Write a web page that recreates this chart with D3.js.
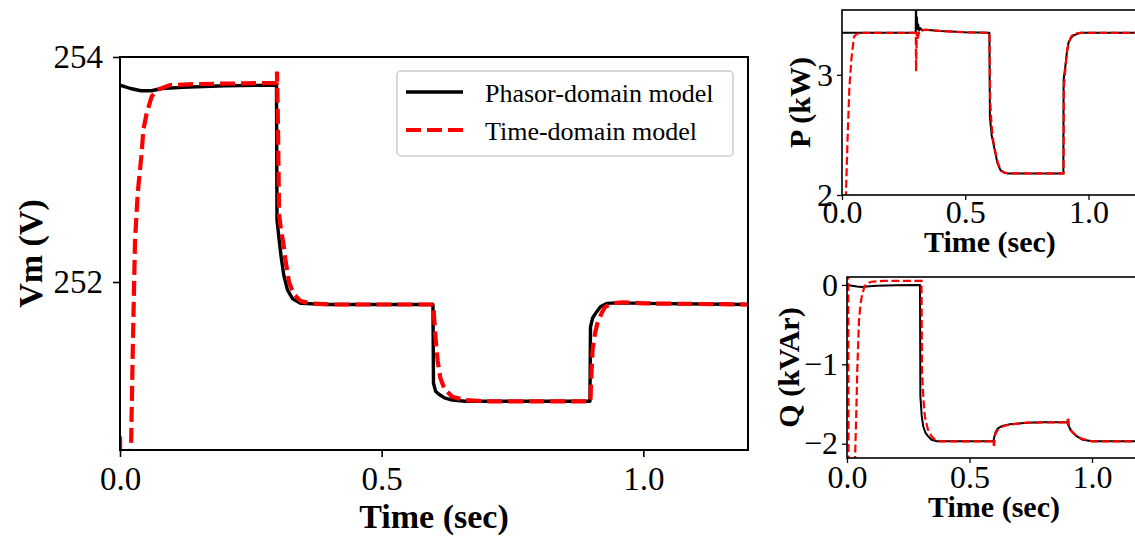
<!DOCTYPE html>
<html>
<head>
<meta charset="utf-8">
<script src="https://cdn.jsdelivr.net/npm/d3@7"></script>
<style>
  html, body { margin: 0; padding: 0; background: #fff; }
  svg { display: block; }
  text { font-family: "Liberation Serif", "Times New Roman", serif; fill: #000; }
</style>
</head>
<body>
<svg id="fig" width="1135" height="539"></svg>
<script>
// Voltage magnitude at the load bus, [time (s), Vm (V)]
const vmPhasor = [[0,253.75],[0.02,253.72],[0.04,253.70],[0.06,253.70],[0.08,253.72],[0.12,253.73],[0.2,253.745],[0.299,253.75],[0.300,252.55],[0.304,252.38],[0.308,252.22],[0.313,252.06],[0.32,251.93],[0.33,251.85],[0.345,251.81],[0.4,251.8],[0.598,251.8],[0.599,251.1],[0.603,251.03],[0.61,251.0],[0.62,250.97],[0.635,250.95],[0.66,250.94],[0.75,250.94],[0.898,250.94],[0.899,251.6],[0.903,251.68],[0.91,251.73],[0.918,251.78],[0.93,251.81],[0.95,251.815],[1.0,251.81],[1.2,251.8]];
const vmTime = [[0,250.63],[0.002,249.8],[0.019,249.8],[0.021,250.5],[0.0243,251.37],[0.0287,252.37],[0.034,252.8],[0.0415,253.15],[0.0445,253.35],[0.051,253.5],[0.0606,253.65],[0.0727,253.71],[0.0956,253.75],[0.15,253.76],[0.2995,253.77],[0.3,253.87],[0.3015,253.5],[0.304,252.6],[0.308,252.45],[0.312,252.35],[0.316,252.2],[0.323,252.0],[0.331,251.9],[0.345,251.83],[0.365,251.81],[0.4,251.8],[0.599,251.8],[0.6,251.7],[0.603,251.5],[0.607,251.3],[0.612,251.15],[0.62,251.05],[0.635,250.98],[0.66,250.95],[0.7,250.94],[0.899,250.94],[0.9,251.1],[0.903,251.4],[0.908,251.55],[0.912,251.63],[0.92,251.72],[0.927,251.78],[0.94,251.81],[0.96,251.82],[1.0,251.81],[1.2,251.8]];

// Active power, [time (s), P (kW)]
const pPhasor = [[0,3.35],[0.2,3.35],[0.299,3.35],[0.3,3.62],[0.302,3.40],[0.304,3.48],[0.306,3.38],[0.309,3.42],[0.313,3.37],[0.318,3.39],[0.325,3.37],[0.34,3.375],[0.4,3.365],[0.5,3.355],[0.598,3.35],[0.6,2.65],[0.607,2.5],[0.614,2.43],[0.63,2.27],[0.642,2.21],[0.655,2.19],[0.67,2.18],[0.898,2.18],[0.899,2.96],[0.906,3.07],[0.912,3.18],[0.919,3.27],[0.93,3.31],[0.94,3.33],[0.967,3.35],[1.2,3.35]];
const pTime = [[0,1.2],[0.015,1.9],[0.016,2.0],[0.022,2.43],[0.03,2.9],[0.039,3.15],[0.049,3.32],[0.06,3.34],[0.073,3.35],[0.2,3.35],[0.2995,3.35],[0.3005,3.03],[0.302,3.2],[0.3035,3.36],[0.306,3.3],[0.31,3.33],[0.315,3.37],[0.325,3.375],[0.34,3.375],[0.4,3.365],[0.5,3.355],[0.598,3.35],[0.601,2.8],[0.606,2.6],[0.612,2.47],[0.62,2.38],[0.632,2.27],[0.645,2.2],[0.66,2.185],[0.68,2.18],[0.899,2.18],[0.9,2.9],[0.906,3.05],[0.913,3.2],[0.92,3.27],[0.93,3.32],[0.945,3.345],[0.97,3.35],[1.2,3.35]];

// Reactive power, [time (s), Q (kVAr)]
const qPhasor = [[0,0],[0.02,-0.01],[0.04,-0.02],[0.06,-0.025],[0.08,-0.02],[0.12,-0.01],[0.2,-0.003],[0.298,0],[0.2995,-1.4],[0.305,-1.65],[0.311,-1.78],[0.32,-1.86],[0.332,-1.91],[0.345,-1.95],[0.366,-1.97],[0.4,-1.97],[0.598,-1.97],[0.6,-1.93],[0.606,-1.86],[0.615,-1.81],[0.63,-1.78],[0.665,-1.755],[0.733,-1.735],[0.8,-1.73],[0.9,-1.73],[0.902,-1.76],[0.912,-1.82],[0.922,-1.86],[0.935,-1.9],[0.95,-1.93],[0.963,-1.95],[1.0,-1.97],[1.2,-1.97]];
const qTime = [[0,0.3],[0.005,0.3],[0.0065,-2.6],[0.03,-2.6],[0.033,-2.18],[0.038,-1.6],[0.042,-1.07],[0.049,-0.44],[0.055,-0.25],[0.06,-0.15],[0.07,-0.03],[0.08,0.02],[0.1,0.04],[0.15,0.05],[0.304,0.05],[0.306,-1.07],[0.312,-1.45],[0.318,-1.66],[0.33,-1.82],[0.346,-1.91],[0.36,-1.95],[0.38,-1.97],[0.597,-1.97],[0.5985,-2.02],[0.6,-1.95],[0.6005,-2.03],[0.604,-1.89],[0.612,-1.84],[0.624,-1.8],[0.645,-1.77],[0.665,-1.76],[0.733,-1.735],[0.9,-1.73],[0.9005,-1.69],[0.902,-1.75],[0.903,-1.68],[0.906,-1.78],[0.912,-1.83],[0.922,-1.86],[0.94,-1.91],[0.963,-1.94],[1.0,-1.97],[1.2,-1.97]];

const timeTicks = [0, 0.5, 1.0];
const vmTicks = [252, 254];
const pTicks = [2, 3];
const qTicks = [0, -1, -2];
const seriesNames = ["Phasor-domain model", "Time-domain model"];

const svg = d3.select("#fig");
const minus = s => s.replace("-", "\u2212");

function panel(cfg) {
  const x = d3.scaleLinear().domain(cfg.xDomain).range([cfg.left, cfg.right]);
  const y = d3.scaleLinear().domain(cfg.yDomain).range([cfg.bottom, cfg.top]);
  const g = svg.append("g");
  const clipId = "clip-" + cfg.id;
  g.append("clipPath").attr("id", clipId).append("rect")
    .attr("x", cfg.left).attr("y", cfg.top)
    .attr("width", cfg.right - cfg.left).attr("height", cfg.bottom - cfg.top);

  const line = d3.line().x(d => x(d[0])).y(d => y(d[1]));
  const plot = g.append("g").attr("clip-path", `url(#${clipId})`);
  plot.append("path").datum(cfg.black).attr("d", line)
    .attr("fill", "none").attr("stroke", "#000")
    .attr("stroke-width", cfg.lw).attr("stroke-linejoin", "round");
  plot.append("path").datum(cfg.red).attr("d", line)
    .attr("fill", "none").attr("stroke", "#ff0000")
    .attr("stroke-width", cfg.lwRed).attr("stroke-dasharray", cfg.dash);

  // frame
  g.append("rect").attr("x", cfg.left).attr("y", cfg.top)
    .attr("width", cfg.right - cfg.left).attr("height", cfg.bottom - cfg.top)
    .attr("fill", "none").attr("stroke", "#000").attr("stroke-width", cfg.spine);

  const xAxis = d3.axisBottom(x).tickValues(timeTicks).tickFormat(d3.format(".1f"))
    .tickSize(cfg.tick).tickPadding(cfg.xPad).tickSizeOuter(0);
  const gx = g.append("g").attr("transform", `translate(0,${cfg.bottom})`).call(xAxis);
  const yAxis = d3.axisLeft(y).tickValues(cfg.yTicks).tickFormat(d => minus(d3.format("d")(d)))
    .tickSize(cfg.tick).tickPadding(cfg.yPad).tickSizeOuter(0);
  const gy = g.append("g").attr("transform", `translate(${cfg.left},0)`).call(yAxis);
  [gx, gy].forEach(a => {
    a.select(".domain").remove();
    a.selectAll(".tick line").attr("stroke", "#000").attr("stroke-width", cfg.spine * 0.8);
    a.selectAll(".tick text").style("font-family", '"Liberation Serif", serif')
      .style("font-size", cfg.tickFont + "px").attr("fill", "#000");
  });

  g.append("text").attr("x", (cfg.left + cfg.right) / 2).attr("y", cfg.xLabelY)
    .attr("text-anchor", "middle").style("font-weight", "bold")
    .style("font-size", cfg.labelFont + "px").text("Time (sec)");
  g.append("text")
    .attr("transform", `translate(${cfg.yLabelX},${(cfg.top + cfg.bottom) / 2}) rotate(-90)`)
    .attr("text-anchor", "middle").style("font-weight", "bold")
    .style("font-size", cfg.labelFont + "px").text(cfg.yLabel);
  return { x, y, g };
}

// Vm panel
const main = panel({
  id: "vm", left: 120, right: 748, top: 57, bottom: 450,
  xDomain: [0, 1.2], yDomain: [250.507, 254],
  black: vmPhasor, red: vmTime, yTicks: vmTicks,
  lw: 3.4, lwRed: 4.2, dash: "15,6", spine: 2, tick: 7, xPad: 10, yPad: 10,
  tickFont: 33, labelFont: 34, xLabelY: 528, yLabelX: 42, yLabel: "Vm (V)"
});

// P panel
panel({
  id: "p", left: 842, right: 842 + 1.2 * 246.5, top: 10, bottom: 195,
  xDomain: [0, 1.2], yDomain: [2, 3.54],
  black: pPhasor, red: pTime, yTicks: pTicks,
  lw: 2, lwRed: 2.2, dash: "8,3.5", spine: 1.6, tick: 5, xPad: 0, yPad: 4,
  tickFont: 32, labelFont: 30, xLabelY: 252, yLabelX: 810, yLabel: "P (kW)"
});

// Q panel
panel({
  id: "q", left: 847, right: 847 + 1.2 * 245, top: 277, bottom: 458,
  xDomain: [0, 1.2], yDomain: [-2.18, 0.1],
  black: qPhasor, red: qTime, yTicks: qTicks,
  lw: 2, lwRed: 2.2, dash: "8,3.5", spine: 1.6, tick: 5, xPad: 2, yPad: 4,
  tickFont: 32, labelFont: 30, xLabelY: 517, yLabelX: 799, yLabel: "Q (kVAr)"
});

// legend for the Vm panel
const leg = main.g.append("g");
leg.append("rect").attr("x", 397).attr("y", 71).attr("width", 336).attr("height", 85)
  .attr("rx", 4).attr("fill", "#fff").attr("fill-opacity", 0.8)
  .attr("stroke", "#cccccc").attr("stroke-width", 1.5);
const legStyles = [
  { stroke: "#000", w: 3.4, dash: null, y: 92 },
  { stroke: "#ff0000", w: 4.2, dash: "15,6", y: 130 }
];
seriesNames.forEach((name, i) => {
  const s = legStyles[i];
  leg.append("line").attr("x1", 406).attr("x2", 463).attr("y1", s.y).attr("y2", s.y)
    .attr("stroke", s.stroke).attr("stroke-width", s.w).attr("stroke-dasharray", s.dash);
  leg.append("text").attr("x", 485).attr("y", s.y + 10)
    .style("font-size", "26px").text(name);
});
</script>
</body>
</html>
